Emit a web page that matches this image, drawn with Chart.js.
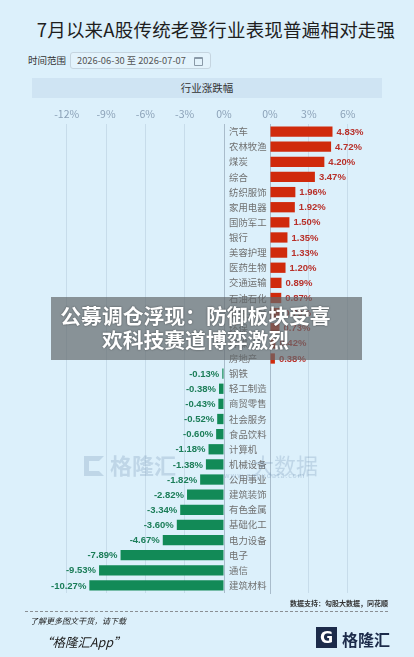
<!DOCTYPE html>
<html lang="zh">
<head>
<meta charset="utf-8">
<title>行业涨跌幅</title>
<script src="https://cdn.jsdelivr.net/npm/chart.js@4.4.1/dist/chart.umd.min.js"></script>
<style>
  html, body { margin: 0; padding: 0; }
  body {
    width: 414px; height: 657px; position: relative; overflow: hidden;
    background: #dcf0fb;
    font-family: "Noto Sans CJK SC", "Noto Sans", sans-serif;
  }
  .abs { position: absolute; }
  #title { left: 0; width: 432px; top: 16px; text-align: center; font-size: 18.5px; color: #1e1e1e; letter-spacing: 0.2px; }
  #rangeLabel { left: 28px; top: 53px; font-size: 9.5px; color: #333; }
  #rangeBox {
    left: 70px; top: 52px; width: 141px; height: 17px; box-sizing: border-box;
    border: 1px solid #c5d5e0; border-radius: 3px; background: #e3f3fc;
    font-size: 9.3px; color: #555; line-height: 15px; padding-left: 6px;
  }
  #rangeBox .cal { position: absolute; right: 7px; top: 4px; width: 7px; height: 6px; border: 1px solid #8a9aa8; border-top-width: 2px; border-radius: 1px; }
  #band { left: 32px; top: 78px; width: 350px; height: 20px; background: #cfe4f3; text-align: center; font-size: 10.5px; line-height: 20px; color: #333; }
  canvas { position: absolute; left: 0; top: 0; }
  #wm { left: 84px; top: 448px; color: rgba(110,140,175,0.26); font-size: 22px; font-weight: bold; }
  #wm .g { display: inline-block; width: 20px; height: 20px; border: 5px solid rgba(110,140,175,0.26); border-right-color: transparent; box-sizing: border-box; vertical-align: -2px; margin-right: 6px; }
  #wm2 { left: 252px; top: 448px; color: rgba(110,140,175,0.26); font-size: 22px; }
  #wm3 { left: 224px; top: 470px; color: rgba(110,140,175,0.35); font-size: 7px; letter-spacing: 1px; }
  #overlay {
    left: 51px; top: 297px; width: 311px; height: 63px; background: rgba(100,106,108,0.70);
    color: #fff; font-weight: bold; font-size: 20.8px; line-height: 24px; text-align: center;
    padding-top: 6px; padding-right: 22px; box-sizing: border-box; text-shadow: 0 0 2px rgba(0,0,0,0.5);
    white-space: nowrap;
  }
  #source { right: 26px; top: 598px; font-size: 7px; color: #333; font-weight: bold; }
  #dots { left: 25px; top: 611px; width: 363px; border-top: 1px dashed #8a8f94; }
  #more { left: 30px; top: 615px; font-size: 8px; font-style: italic; color: #222; }
  #app { left: 40px; top: 632px; font-size: 12.5px; font-style: italic; color: #222; }
  #logo { left: 316px; top: 627px; width: 21px; height: 21px; background: #1c2b4a; color: #fff; font: bold 16px/21px "DejaVu Sans", sans-serif; text-align: center; }
  #logoText { left: 342px; top: 627px; font-size: 16px; color: #1c2b4a; font-weight: bold; }
</style>
</head>
<body>
<div id="title" class="abs">7月以来A股传统老登行业表现普遍相对走强</div>
<div id="rangeLabel" class="abs">时间范围</div>
<div id="rangeBox" class="abs">2026-06-30 至 2026-07-07<span class="cal"></span></div>
<div id="band" class="abs">行业涨跌幅</div>

<canvas id="leftChart" width="414" height="657"></canvas>
<canvas id="rightChart" width="414" height="657"></canvas>

<div id="wm" class="abs"><span class="g"></span>格隆汇</div>
<div id="wm2" class="abs">大数据</div>
<div id="wm3" class="abs">www.gogudata.com</div>
<div id="overlay" class="abs">公募调仓浮现：防御板块受喜<br>欢科技赛道博弈激烈</div>

<div id="source" class="abs">数据支持：勾股大数据，同花顺</div>
<div id="dots" class="abs"></div>
<div id="more" class="abs">了解更多图文干货，请下载</div>
<div id="app" class="abs">“格隆汇App”</div>
<div id="logo" class="abs">G</div>
<div id="logoText" class="abs">格隆汇</div>

<script>
const categories = [
    '汽车', '农林牧渔', '煤炭', '综合', '纺织服饰', '家用电器', '国防军工', '银行',
    '美容护理', '医药生物', '交通运输', '石油石化', '非银金融', '环保', '传媒', '房地产',
    '钢铁', '轻工制造', '商贸零售', '社会服务', '食品饮料', '计算机', '机械设备', '公用事业',
    '建筑装饰', '有色金属', '基础化工', '电力设备', '电子', '通信', '建筑材料'
];
const changes = [
    4.83, 4.72, 4.20, 3.47, 1.96, 1.92, 1.50, 1.35,
    1.33, 1.20, 0.89, 0.87, 0.79, 0.73, 0.42, 0.38,
    -0.13, -0.38, -0.43, -0.52, -0.60, -1.18, -1.38, -1.82,
    -2.82, -3.34, -3.60, -4.67, -7.89, -9.53, -10.27
];
const leftTicks = [-12, -9, -6, -3, 0];
const rightTicks = [0, 3, 6];

const riseColor = '#d02a0c';
const fallColor = '#128a57';
const riseText = '#b8302a';
const fallText = '#1b7d58';

Chart.defaults.font.family = '"Noto Sans CJK SC", "Noto Sans", sans-serif';

const valueLabels = {
    id: 'valueLabels',
    afterDatasetsDraw(chart) {
        const ctx = chart.ctx;
        const values = chart.data.datasets[0].data;
        ctx.save();
        ctx.font = 'bold 9.5px "Liberation Sans", "Noto Sans", sans-serif';
        ctx.textBaseline = 'middle';
        chart.getDatasetMeta(0).data.forEach((bar, i) => {
            const v = values[i];
            if (v === null) return;
            if (v > 0) {
                ctx.fillStyle = riseText;
                ctx.textAlign = 'left';
                ctx.fillText(v.toFixed(2) + '%', bar.x + 4, bar.y + 0.5);
            } else {
                ctx.fillStyle = fallText;
                ctx.textAlign = 'right';
                ctx.fillText(v.toFixed(2) + '%', bar.x - 3, bar.y + 0.5);
            }
        });
        ctx.restore();
    }
};

function xAxis(min, max, ticks) {
    return {
        position: 'top',
        min: min,
        max: max,
        afterBuildTicks: s => { s.ticks = ticks.map(v => ({ value: v })); },
        afterFit: s => { s.height = 21; },
        ticks: { callback: v => v + '%', font: { size: 10.5 }, color: '#8ba1b7', padding: 4 },
        grid: {
            drawTicks: false,
            color: c => (c.tick && c.tick.value === 0 ? '#a9bccb' : '#c7dcea')
        },
        border: { display: false }
    };
}

new Chart(document.getElementById('leftChart'), {
    type: 'bar',
    data: {
        labels: categories,
        datasets: [{
            data: changes.map(v => (v < 0 ? v : null)),
            backgroundColor: fallColor,
            barPercentage: 0.68,
            categoryPercentage: 1
        }]
    },
    options: {
        indexAxis: 'y',
        responsive: false,
        animation: false,
        layout: { padding: { left: 47, right: 190, top: 103, bottom: 64 } },
        plugins: { legend: { display: false }, tooltip: { enabled: false } },
        scales: {
            x: xAxis(-13.5, 0, leftTicks),
            y: { display: false }
        }
    },
    plugins: [valueLabels]
});

new Chart(document.getElementById('rightChart'), {
    type: 'bar',
    data: {
        labels: categories,
        datasets: [{
            data: changes.map(v => (v > 0 ? v : null)),
            backgroundColor: riseColor,
            barPercentage: 0.68,
            categoryPercentage: 1
        }]
    },
    options: {
        indexAxis: 'y',
        responsive: false,
        animation: false,
        layout: { padding: { left: 229, right: 34, top: 103, bottom: 64 } },
        plugins: { legend: { display: false }, tooltip: { enabled: false } },
        scales: {
            x: xAxis(0, 8.5, rightTicks),
            y: {
                position: 'left',
                afterFit: s => { s.width = 41; },
                ticks: { autoSkip: false, crossAlign: 'far', padding: 0, font: { size: 9.4 }, color: '#707070' },
                grid: { display: false },
                border: { color: '#a9bccb' }
            }
        }
    },
    plugins: [valueLabels]
});
</script>
</body>
</html>
